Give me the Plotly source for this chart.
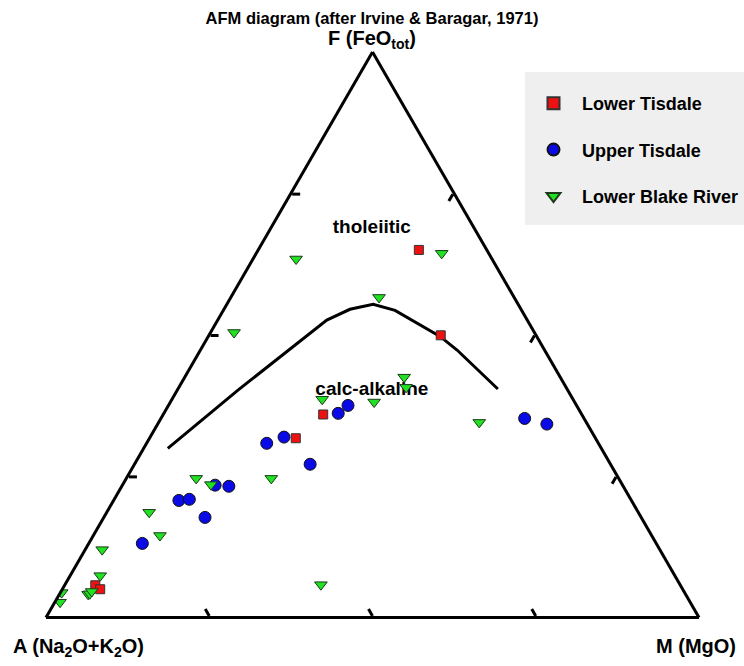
import plotly.graph_objects as go

# AFM ternary diagram: F = FeO(tot), A = Na2O+K2O, M = MgO (wt% normalised to 100)

# Lower Tisdale
lt_F = [65.0, 49.9, 35.9, 31.7, 5.7, 5.0]
lt_A = [10.4, 14.6, 39.6, 45.9, 89.6, 89.2]
lt_M = [24.6, 35.5, 24.5, 22.4, 4.7, 5.8]

# Upper Tisdale
ut_F = [37.5, 36.1, 31.9, 30.8, 27.1, 23.4, 23.2, 20.7, 20.9, 17.7, 13.1, 35.2, 34.2]
ut_A = [35.0, 37.2, 47.6, 50.8, 46.0, 62.4, 60.4, 69.3, 67.6, 66.8, 78.7, 9.1, 6.2]
ut_M = [27.5, 26.7, 20.5, 18.4, 26.9, 14.2, 16.4, 10.0, 11.5, 15.5, 8.2, 55.7, 59.6]

# Lower Blake River
lbr_F = [63.4, 64.4, 50.4, 56.6, 42.5, 40.7, 38.1, 38.6, 34.5, 24.6, 23.5,
         24.6, 18.6, 14.5, 12.0, 5.8, 7.4, 4.4, 2.7, 4.1, 4.2, 4.6]
lbr_A = [30.0, 7.2, 46.0, 20.7, 23.9, 24.5, 30.7, 38.4, 16.4, 64.7, 63.0,
         53.2, 74.9, 75.3, 85.4, 55.0, 88.0, 95.4, 96.5, 91.5, 91.2, 90.7]
lbr_M = [6.6, 28.4, 3.6, 22.7, 33.6, 34.8, 31.2, 23.0, 49.1, 10.7, 13.5,
         22.2, 6.5, 10.2, 2.6, 39.2, 4.6, 0.2, 0.8, 4.4, 4.6, 4.7]

# Tholeiitic / calc-alkaline boundary (Irvine & Baragar, 1971)
div_F = [29.9, 40.2, 52.6, 54.5, 55.4, 54.3, 49.7, 47.3, 40.4]
div_A = [66.4, 50.5, 30.7, 26.2, 22.2, 19.4, 14.8, 13.4, 10.6]
div_M = [3.7, 9.3, 16.7, 19.3, 22.4, 26.3, 35.5, 39.3, 49.0]

# Field names
field_names = ["tholeiitic", "calc-alkaline"]
field_F = [68.8, 40.2]
field_A = [15.7, 30.0]
field_M = [15.5, 29.8]

# Corner labels
corner_labels = ["F (FeO<sub>tot</sub>)", "A (Na<sub>2</sub>O+K<sub>2</sub>O)", "M (MgO)"]

FONT = "Liberation Sans, Arial, sans-serif"
W, H = 744, 666

fig = go.Figure()

fig.add_trace(go.Scatterternary(
    a=div_F, b=div_A, c=div_M, mode="lines",
    line=dict(color="black", width=3), showlegend=False, hoverinfo="skip"))

fig.add_trace(go.Scatterternary(
    a=field_F, b=field_A, c=field_M, mode="text", text=field_names,
    textfont=dict(family=FONT, size=19, color="black", weight="bold"),
    showlegend=False, hoverinfo="skip"))

fig.add_trace(go.Scatterternary(
    a=lt_F, b=lt_A, c=lt_M, mode="markers", name="Lower Tisdale",
    legendgroup="lt",
    marker=dict(symbol="square", size=9, color="#ee1111",
                line=dict(color="#333333", width=1))))

fig.add_trace(go.Scatterternary(
    a=ut_F, b=ut_A, c=ut_M, mode="markers", name="Upper Tisdale",
    legendgroup="ut",
    marker=dict(symbol="circle", size=12, color="#0a0ae6",
                line=dict(color="#111111", width=1))))

fig.add_trace(go.Scatterternary(
    a=lbr_F, b=lbr_A, c=lbr_M, mode="markers", name="Lower Blake River",
    legendgroup="lbr",
    marker=dict(symbol="triangle-down", size=11, color="#22e022",
                line=dict(color="#1a3a1a", width=1))))

axis_common = dict(
    showgrid=False, showline=True, linecolor="black", linewidth=3,
    ticks="inside", ticklen=8, tickwidth=3, tickcolor="black",
    tickmode="array", tickvals=[25, 50, 75], showticklabels=False,
    min=0, title=dict(text=""),
)

label_font = dict(family=FONT, size=20, color="black", weight="bold")
fig.update_layout(
    width=W, height=H,
    margin=dict(l=0, r=0, t=0, b=0, autoexpand=False),
    paper_bgcolor="white",
    font=dict(family=FONT, color="black"),
    title=dict(text="AFM diagram (after Irvine & Baragar, 1971)",
               x=372 / W, xanchor="center", y=1 - 18 / H, yanchor="middle",
               font=dict(family=FONT, size=16.5, color="black", weight="bold")),
    ternary=dict(
        sum=100,
        bgcolor="white",
        domain=dict(x=[46 / W, 699 / W], y=[1 - 617.5 / H, 1 - 52 / H]),
        aaxis=axis_common, baxis=axis_common, caxis=axis_common,
    ),
    annotations=[
        dict(text=corner_labels[0], x=372 / W, y=1 - 40 / H, xref="paper", yref="paper",
             xanchor="center", yanchor="middle", showarrow=False, font=label_font),
        dict(text=corner_labels[1], x=78 / W, y=1 - 647 / H, xref="paper", yref="paper",
             xanchor="center", yanchor="middle", showarrow=False, font=label_font),
        dict(text=corner_labels[2], x=696 / W, y=1 - 646 / H, xref="paper", yref="paper",
             xanchor="center", yanchor="middle", showarrow=False, font=label_font),
    ],
    # grey panel behind the legend entries
    shapes=[dict(type="rect", xref="paper", yref="paper",
                 x0=525 / W, x1=1.0, y0=1 - 225 / H, y1=1 - 72 / H,
                 fillcolor="#efefef", line=dict(width=0), layer="below")],
    legend=dict(
        x=525 / W, y=1 - 72 / H, xanchor="left", yanchor="top",
        bgcolor="rgba(0,0,0,0)", borderwidth=0,
        font=dict(family=FONT, size=18, color="black", weight="bold"),
        title=dict(text=" ", font=dict(size=10)),
        traceorder="grouped", tracegroupgap=20, itemsizing="constant",
        itemwidth=47,
    ),
)

fig.write_html("out.html")
